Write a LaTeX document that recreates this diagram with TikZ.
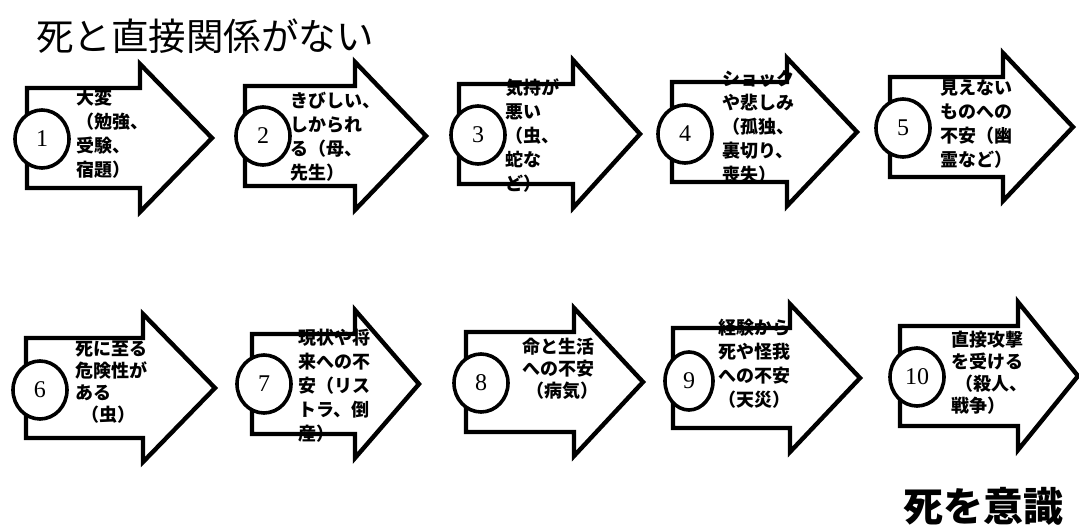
\documentclass[tikz,border=0pt]{standalone}
\usepackage{fontspec}
\setmainfont{Liberation Serif}
\newfontfamily\jp{Noto Sans CJK JP}
\usetikzlibrary{shapes.geometric}
\newcommand\bigarrow[4]{\draw[arr] (#1,{#4-50}) -- (#2,{#4-50}) -- (#2,{#4-74}) -- (#3,#4) -- (#2,{#4+74}) -- (#2,{#4+50}) -- (#1,{#4+50}) -- cycle;}
\begin{document}
\begin{tikzpicture}[x=1pt,y=-1pt,
  arr/.style={draw=black, line width=4.4pt, line join=miter, fill=white},
  num/.style={ellipse, draw=black, line width=3.6pt, fill=white, minimum width=54pt, minimum height=58pt, inner sep=0pt, font=\fontsize{24}{24}\selectfont},
  txt/.style={anchor=north west, align=left, inner sep=0pt, font=\jp\bfseries\fontsize{18}{24}\selectfont},
  txtb/.style={txt, font=\jp\bfseries\fontsize{18}{22}\selectfont},
  title/.style={anchor=west, inner sep=0pt, font=\jp\fontsize{37.5}{37.5}\selectfont},
  title2/.style={anchor=east, inner sep=0pt, font=\jp\bfseries\fontsize{40}{40}\selectfont}]
\useasboundingbox (0,0) rectangle (1079,529);
\fill[white] (0,0) rectangle (1079,529);

\node[title] (ttl) at (36,36) {死と直接関係がない};
\node[title2] (ttl2) at (1064,506) {死を意識};

% row 1
\bigarrow{27}{140}{212}{138}
\node[num] (n1) at (42,139) {1};
\node[txt] (t1) at (76,89) {大変\\（勉強、\\受験、\\宿題）};

\bigarrow{245}{355}{426}{136}
\node[num] (n2) at (263,136) {2};
\node[txt] (t2) at (290,92) {きびしい、\\しかられ\\る（母、\\先生）};

\bigarrow{459}{573}{640}{134}
\node[num] (n3) at (478,135) {3};
\node[txt] (t3) at (505,79) {気持が\\悪い\\（虫、\\蛇な\\ど）};

\bigarrow{672}{787}{857}{132}
\node[num] (n4) at (685,134) {4};
\node[txt] (t4) at (722,70) {ショック\\や悲しみ\\（孤独、\\裏切り、\\喪失）};

\bigarrow{890}{1003}{1073}{127}
\node[num] (n5) at (903,128) {5};
\node[txt] (t5) at (940,79) {見えない\\ものへの\\不安（幽\\霊など）};

% row 2
\bigarrow{26}{143}{215}{388}
\node[num] (n6) at (40,390) {6};
\node[txtb] (t6) at (75,341) {死に至る\\危険性が\\ある\\\hspace*{6pt}（虫）};

\bigarrow{252}{355}{419}{384}
\node[num] (n7) at (264,384) {7};
\node[txt] (t7) at (298,329) {現状や将\\来への不\\安（リス\\トラ、倒\\産）};

\bigarrow{466}{574}{643}{382}
\node[num] (n8) at (481,383) {8};
\node[txtb] (t8) at (522,338) {命と生活\\への不安\\\hspace*{4pt}（病気）};

\bigarrow{673}{790}{860}{378}
\node[num, minimum width=48pt] (n9) at (689,381) {9};
\node[txt] (t9) at (718,319) {経験から\\死や怪我\\への不安\\（天災）};

\bigarrow{900}{1018}{1078}{376}
\node[num] (n10) at (917,377) {10};
\node[txtb] (t10) at (951,331) {直接攻撃\\を受ける\\\hspace*{4pt}（殺人、\\戦争）};
\end{tikzpicture}
\end{document}
